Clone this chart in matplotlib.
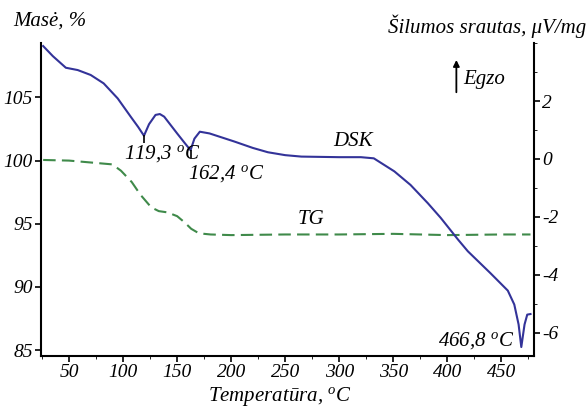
import matplotlib
matplotlib.use("Agg")
from matplotlib import pyplot as plt
from matplotlib.ticker import MultipleLocator

# DSK kreive (dešine ašis, uV/mg)
dsk_t = [26, 35, 47, 58, 70, 82, 95, 107, 114, 119.3, 124, 130, 134, 138, 150, 157, 162.4,
         166, 171, 180, 203, 220, 234, 250, 265, 300, 320, 332, 351, 366, 382, 394, 410,
         419, 440, 456, 462, 466, 468.5, 471.5, 474, 477]
dsk_v = [3.9, 3.55, 3.15, 3.07, 2.9, 2.61, 2.09, 1.46, 1.1, 0.8, 1.2, 1.52, 1.55, 1.46, 0.88,
         0.55, 0.3, 0.7, 0.94, 0.88, 0.6, 0.38, 0.23, 0.13, 0.08, 0.06, 0.06, 0.02, -0.43,
         -0.9, -1.53, -2.04, -2.79, -3.19, -3.95, -4.55, -5.03, -5.72, -6.5, -5.72, -5.38, -5.36]

# pikų žymės
pik_t = [119.3, 162.4]
pik_v = [0.8, 0.3]

# TG kreive (kairė ašis, %)
tg_t = [26, 50, 70, 90, 98, 108, 116, 121, 126, 133, 141, 150, 157, 163, 169, 175, 181,
        200, 250, 300, 350, 400, 450, 477]
tg_m = [100.05, 100.0, 99.85, 99.7, 99.2, 98.3, 97.3, 96.8, 96.3, 96.0, 95.9, 95.6, 95.1,
        94.6, 94.3, 94.2, 94.15, 94.1, 94.15, 94.15, 94.2, 94.1, 94.15, 94.15]

plt.rcParams['font.family'] = 'Liberation Serif'
plt.rcParams['font.style'] = 'italic'
plt.rcParams['mathtext.fontset'] = 'custom'
plt.rcParams['mathtext.rm'] = 'Liberation Serif:italic'
plt.rcParams['mathtext.it'] = 'Liberation Serif:italic'

fig = plt.figure(figsize=(5.88, 4.07), dpi=100)
ax = fig.add_axes([0.0697, 0.126, 0.838, 0.768])
ax2 = ax.twinx()

ax.plot(tg_t, tg_m, color="#3f8a4a", lw=1.5, dashes=(6, 3))
ax2.plot(dsk_t, dsk_v, color="#333399", lw=1.5)
# maži vertikalūs brūkšneliai po pikais
ax2.plot(pik_t, [v - 0.12 for v in pik_v], ls="none", marker="|", color="black",
         markersize=6, markeredgewidth=1.2)

ax.set_xlim(24, 480)
ax.set_ylim(84.55, 109.3)
ax2.set_ylim(-6.8, 4.0)

for s in ["top", "right"]:
    ax.spines[s].set_visible(False)
for s in ["top", "left", "bottom"]:
    ax2.spines[s].set_visible(False)
for a in (ax, ax2):
    for s in a.spines.values():
        s.set_linewidth(1.5)

ax.xaxis.set_major_locator(MultipleLocator(50))
ax.xaxis.set_minor_locator(MultipleLocator(25))
ax.yaxis.set_major_locator(MultipleLocator(5))
ax2.yaxis.set_major_locator(MultipleLocator(2))
ax2.yaxis.set_minor_locator(MultipleLocator(1))
ax.tick_params(labelsize=14, width=1.2, length=4, pad=2)
ax.tick_params(which="minor", length=2)
ax2.tick_params(labelsize=14, width=1.2, length=4, pad=2)
ax2.tick_params(which="minor", length=2)
ax.set_xticks(range(50, 451, 50))
ax.set_yticks([85, 90, 95, 100, 105])
ax2.set_yticks([-6, -4, -2, 0, 2])
ax2.set_yticklabels(["-6", "-4", "-2", "0", "2"])

fig.text(0.476, 0.027, r"Temperatūra, $^{\rm o}$C", fontsize=15, va="center", ha="center")
fig.text(0.022, 0.948, "Masė, %", fontsize=15, va="center", ha="left")
fig.text(0.997, 0.935, "Šilumos srautas, μV/mg", fontsize=15, va="center", ha="right")

ax2.annotate("", xy=(0.843, 0.955), xytext=(0.843, 0.834), xycoords="axes fraction",
             arrowprops=dict(arrowstyle="-|>", color="black", lw=1.3, mutation_scale=9))
ax2.text(0.857, 0.885, "Egzo", transform=ax2.transAxes, fontsize=15, va="center")

ax2.text(136, 0.2, r"119,3 $^{\rm o}$C", fontsize=15, ha="center", va="center")
ax2.text(195, -0.5, r"162,4 $^{\rm o}$C", fontsize=15, ha="center", va="center")
ax2.text(313, 0.6, "DSK", fontsize=15, ha="center", va="center")
ax2.text(274, -2.08, "TG", fontsize=15, ha="center", va="center")
ax2.text(427, -6.29, r"466,8 $^{\rm o}$C", fontsize=15, ha="center", va="center")

fig.savefig("out.png", dpi=100)
